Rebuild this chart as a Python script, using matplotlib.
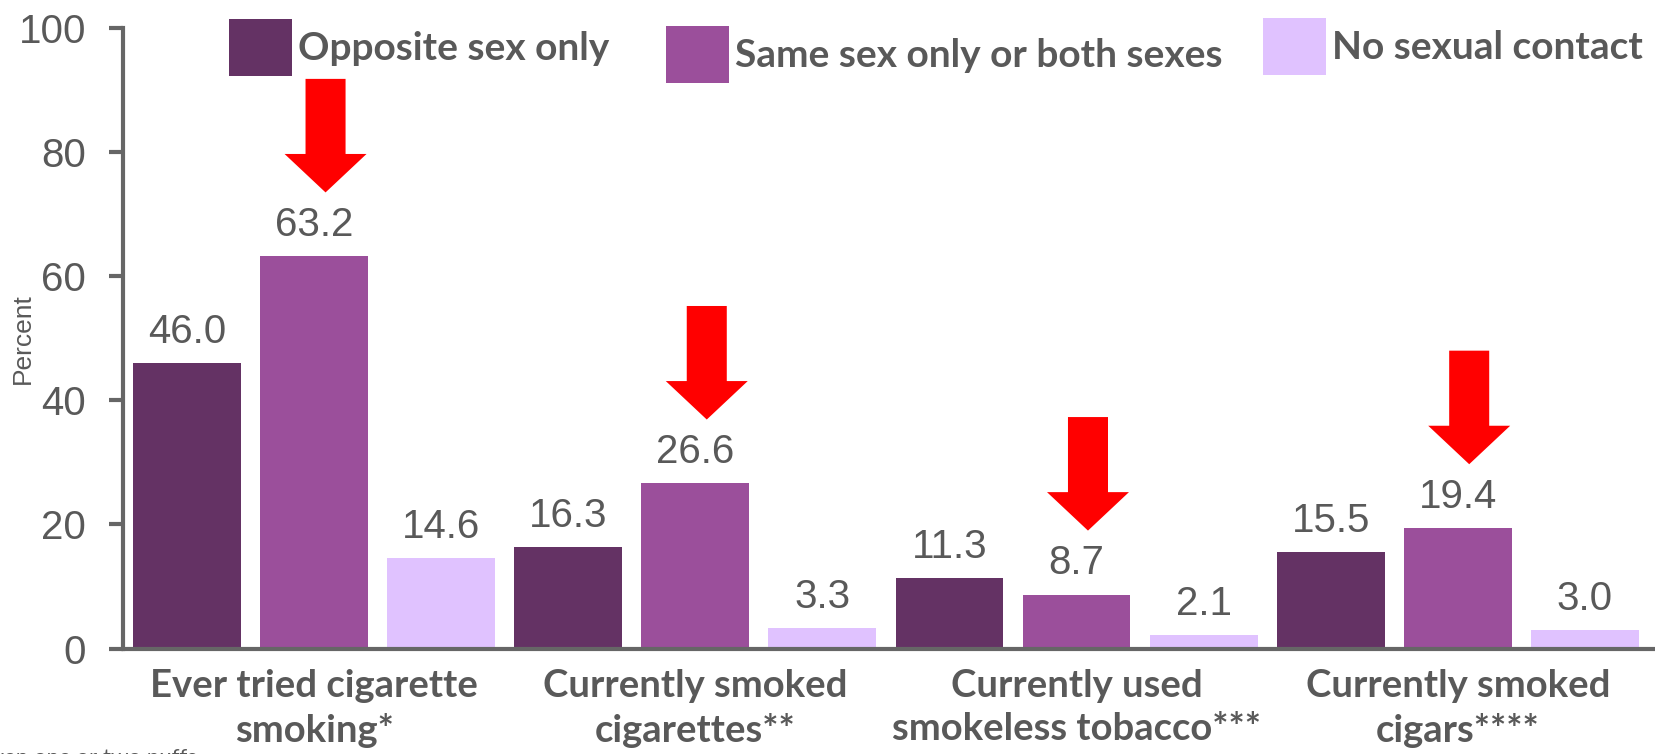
import numpy as np
import matplotlib
matplotlib.use("Agg")
import matplotlib.pyplot as plt

# data
categories = ["Ever tried cigarette\nsmoking*", "Currently smoked\ncigarettes**",
              "Currently used\nsmokeless tobacco***", "Currently smoked\ncigars****"]
series_names = ["Opposite sex only", "Same sex only or both sexes", "No sexual contact"]
opposite_sex = [46.0, 16.3, 11.3, 15.5]
same_or_both = [63.2, 26.6, 8.7, 19.4]
no_contact = [14.6, 3.3, 2.1, 3.0]
yticks = [0, 20, 40, 60, 80, 100]

colors = ["#643264", "#9b4f9b", "#e0c2ff"]
gray = "#595959"
axis_gray = "#666666"

plt.rcParams['font.family'] = ['Liberation Sans', 'DejaVu Sans']

W, H = 1656, 754
fig = plt.figure(figsize=(W / 100, H / 100), dpi=100)
ax = fig.add_axes([123.5 / W, 105.5 / H, 1 - 123.5 / W, 620.5 / H])

x = np.arange(len(categories))
step = 1 / 3
width = 0.283
all_series = [opposite_sex, same_or_both, no_contact]

bars = []
for j, (vals, name, c) in enumerate(zip(all_series, series_names, colors)):
    b = ax.bar(x + (j - 1) * step, vals, width, color=c, label=name, zorder=2)
    bars.append(b)
    for xi, v in zip(x + (j - 1) * step, vals):
        ax.annotate(f"{v:.1f}", (xi, v), xytext=(0, 14.5), textcoords="offset points",
                    ha="center", va="baseline", fontsize=29, color=gray)

# red arrows over the middle series
for xi, v in zip(x, same_or_both):
    tip = v + 10.3
    ax.arrow(xi + 0.03, tip + 18.3, 0, -18.3, width=0.105, head_width=0.215,
             head_length=6.2, length_includes_head=True, color="#ff0000",
             zorder=5, linewidth=0)

ax.set_ylim(0, 100)
ax.set_xlim(-0.5, 3.52)
ax.set_yticks(yticks)
ax.set_xticks(x)
ax.set_xticklabels(categories, fontsize=27.5, fontweight="bold", family="Lato",
                   color=gray, linespacing=1.32)
ax.tick_params(axis="x", length=0, pad=15)
ax.tick_params(axis="y", length=10, width=3, color=axis_gray, labelsize=29,
               labelcolor=gray, pad=17)
for s in ["top", "right"]:
    ax.spines[s].set_visible(False)
for s in ["left", "bottom"]:
    ax.spines[s].set_color(axis_gray)
    ax.spines[s].set_linewidth(3)

ax.set_ylabel("Percent", fontsize=19, color=gray)
ax.yaxis.set_label_coords(-0.058, 0.5)

# one legend per entry, the way the slide places them
leg_spots = [(229, 19), (666, 26), (1263, 18)]
for b, name, (lx, ly) in zip(bars, series_names, leg_spots):
    leg = fig.legend(handles=[b], labels=[name], loc="upper left",
                     bbox_to_anchor=(lx / W, 1 - ly / H), frameon=False,
                     prop={"family": "Lato", "weight": "bold", "size": 28},
                     handlelength=1.62, handleheight=1.86, handletextpad=0.15,
                     borderpad=0, borderaxespad=0)
    for t in leg.get_texts():
        t.set_color(gray)

# footnote, mostly off the bottom of the canvas
fig.text(197 / W, 0.008, "*Ever tried cigarette smoking, even one or two puffs",
         ha="right", va="top", fontsize=16, color=gray, family="Lato")

fig.savefig("out.png", dpi=100)
